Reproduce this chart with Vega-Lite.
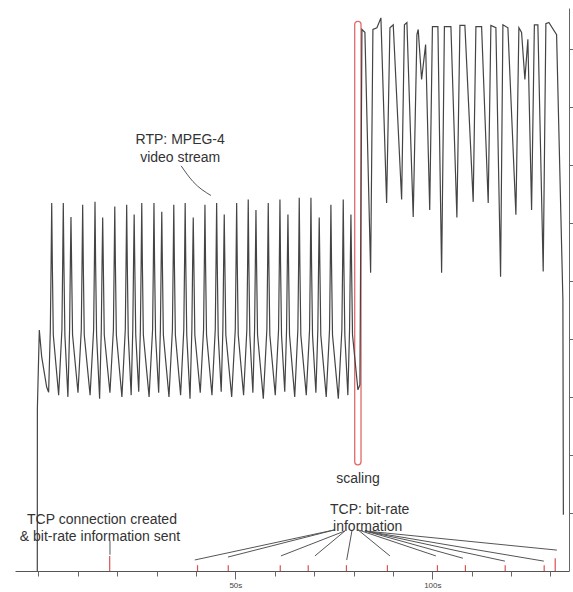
{
  "$schema": "https://vega.github.io/schema/vega-lite/v6.json",
  "width": 554,
  "height": 563,
  "autosize": "none",
  "padding": {"left": 15, "top": 8, "right": 4, "bottom": 21},
  "background": "white",
  "config": {"view": {"stroke": null}, "font": "Liberation Sans"},
  "datasets": {
    "signal": [
      {"t": -0.28, "v": 0}, {"t": -0.26, "v": 280}, {"t": 0.23, "v": 415}, {"t": 0.84, "v": 369}, {"t": 2.1, "v": 317}, {"t": 2.6, "v": 308},
      {"t": 3.03, "v": 416}, {"t": 3.23, "v": 533}, {"t": 3.38, "v": 634}, {"t": 3.53, "v": 533}, {"t": 3.78, "v": 407}, {"t": 5.14, "v": 303},
      {"t": 5.97, "v": 416}, {"t": 6.17, "v": 533}, {"t": 6.32, "v": 634}, {"t": 6.47, "v": 533}, {"t": 6.72, "v": 407}, {"t": 7.49, "v": 300},
      {"t": 7.92, "v": 416}, {"t": 8.12, "v": 533}, {"t": 8.27, "v": 610}, {"t": 8.42, "v": 533}, {"t": 8.67, "v": 407}, {"t": 10.05, "v": 307},
      {"t": 10.89, "v": 416}, {"t": 11.09, "v": 533}, {"t": 11.24, "v": 631}, {"t": 11.39, "v": 533}, {"t": 11.64, "v": 407}, {"t": 13.12, "v": 303},
      {"t": 14.02, "v": 416}, {"t": 14.22, "v": 533}, {"t": 14.37, "v": 636}, {"t": 14.52, "v": 533}, {"t": 14.77, "v": 407}, {"t": 15.54, "v": 297},
      {"t": 15.97, "v": 416}, {"t": 16.17, "v": 533}, {"t": 16.32, "v": 609}, {"t": 16.47, "v": 533}, {"t": 16.72, "v": 407}, {"t": 18.16, "v": 307},
      {"t": 19.04, "v": 416}, {"t": 19.24, "v": 533}, {"t": 19.39, "v": 628}, {"t": 19.54, "v": 533}, {"t": 19.79, "v": 407}, {"t": 21.2, "v": 300},
      {"t": 22.06, "v": 416}, {"t": 22.26, "v": 533}, {"t": 22.41, "v": 631}, {"t": 22.56, "v": 533}, {"t": 22.81, "v": 407}, {"t": 23.55, "v": 303},
      {"t": 23.96, "v": 416}, {"t": 24.16, "v": 533}, {"t": 24.31, "v": 614}, {"t": 24.46, "v": 533}, {"t": 24.71, "v": 407}, {"t": 25.47, "v": 309},
      {"t": 25.89, "v": 416}, {"t": 26.09, "v": 533}, {"t": 26.24, "v": 634}, {"t": 26.39, "v": 533}, {"t": 26.64, "v": 407}, {"t": 28.1, "v": 300},
      {"t": 28.99, "v": 416}, {"t": 29.19, "v": 533}, {"t": 29.34, "v": 634}, {"t": 29.49, "v": 533}, {"t": 29.74, "v": 407}, {"t": 30.53, "v": 307},
      {"t": 30.97, "v": 416}, {"t": 31.17, "v": 533}, {"t": 31.32, "v": 619}, {"t": 31.47, "v": 533}, {"t": 31.72, "v": 407}, {"t": 33.15, "v": 300},
      {"t": 34.02, "v": 416}, {"t": 34.22, "v": 533}, {"t": 34.37, "v": 631}, {"t": 34.52, "v": 533}, {"t": 34.77, "v": 407}, {"t": 36.1, "v": 303},
      {"t": 36.91, "v": 416}, {"t": 37.11, "v": 533}, {"t": 37.26, "v": 634}, {"t": 37.41, "v": 533}, {"t": 37.66, "v": 407}, {"t": 38.49, "v": 297},
      {"t": 38.96, "v": 416}, {"t": 39.16, "v": 533}, {"t": 39.31, "v": 609}, {"t": 39.46, "v": 533}, {"t": 39.71, "v": 407}, {"t": 41.09, "v": 307},
      {"t": 41.93, "v": 416}, {"t": 42.13, "v": 533}, {"t": 42.28, "v": 631}, {"t": 42.43, "v": 533}, {"t": 42.68, "v": 407}, {"t": 44.06, "v": 303},
      {"t": 44.9, "v": 416}, {"t": 45.1, "v": 533}, {"t": 45.25, "v": 634}, {"t": 45.4, "v": 533}, {"t": 45.65, "v": 407}, {"t": 46.41, "v": 309},
      {"t": 46.83, "v": 416}, {"t": 47.03, "v": 533}, {"t": 47.18, "v": 614}, {"t": 47.33, "v": 533}, {"t": 47.58, "v": 407}, {"t": 49.07, "v": 300},
      {"t": 49.98, "v": 416}, {"t": 50.18, "v": 533}, {"t": 50.33, "v": 634}, {"t": 50.48, "v": 533}, {"t": 50.73, "v": 407}, {"t": 52.09, "v": 303},
      {"t": 52.92, "v": 416}, {"t": 53.12, "v": 533}, {"t": 53.27, "v": 640}, {"t": 53.42, "v": 533}, {"t": 53.67, "v": 407}, {"t": 54.45, "v": 307},
      {"t": 54.88, "v": 416}, {"t": 55.08, "v": 533}, {"t": 55.23, "v": 622}, {"t": 55.38, "v": 533}, {"t": 55.63, "v": 407}, {"t": 57.1, "v": 297},
      {"t": 58.0, "v": 416}, {"t": 58.2, "v": 533}, {"t": 58.35, "v": 634}, {"t": 58.5, "v": 533}, {"t": 58.75, "v": 407}, {"t": 60.13, "v": 303},
      {"t": 60.97, "v": 416}, {"t": 61.17, "v": 533}, {"t": 61.32, "v": 640}, {"t": 61.47, "v": 533}, {"t": 61.72, "v": 407}, {"t": 62.54, "v": 309},
      {"t": 63.0, "v": 416}, {"t": 63.2, "v": 533}, {"t": 63.35, "v": 614}, {"t": 63.5, "v": 533}, {"t": 63.75, "v": 407}, {"t": 65.07, "v": 300},
      {"t": 65.87, "v": 416}, {"t": 66.07, "v": 533}, {"t": 66.22, "v": 643}, {"t": 66.37, "v": 533}, {"t": 66.62, "v": 407}, {"t": 68.0, "v": 303},
      {"t": 68.84, "v": 416}, {"t": 69.04, "v": 533}, {"t": 69.19, "v": 643}, {"t": 69.34, "v": 533}, {"t": 69.59, "v": 407}, {"t": 70.45, "v": 307},
      {"t": 70.94, "v": 416}, {"t": 71.14, "v": 533}, {"t": 71.29, "v": 609}, {"t": 71.44, "v": 533}, {"t": 71.69, "v": 407}, {"t": 73.07, "v": 300},
      {"t": 73.91, "v": 416}, {"t": 74.11, "v": 533}, {"t": 74.26, "v": 631}, {"t": 74.41, "v": 533}, {"t": 74.66, "v": 407}, {"t": 76.14, "v": 297},
      {"t": 77.04, "v": 416}, {"t": 77.24, "v": 533}, {"t": 77.39, "v": 640}, {"t": 77.54, "v": 533}, {"t": 77.79, "v": 407}, {"t": 78.56, "v": 303},
      {"t": 78.99, "v": 416}, {"t": 79.19, "v": 533}, {"t": 79.34, "v": 614}, {"t": 79.49, "v": 533}, {"t": 79.74, "v": 407},
      {"t": 81.12, "v": 312}, {"t": 81.62, "v": 321}, {"t": 82.13, "v": 933}, {"t": 82.89, "v": 928}, {"t": 84.34, "v": 514},
      {"t": 84.92, "v": 933}, {"t": 85.94, "v": 936}, {"t": 86.95, "v": 953}, {"t": 88.4, "v": 634}, {"t": 89.24, "v": 936},
      {"t": 90.08, "v": 941}, {"t": 92.21, "v": 640}, {"t": 92.92, "v": 941}, {"t": 93.55, "v": 945}, {"t": 95.15, "v": 610},
      {"t": 96.09, "v": 924}, {"t": 96.42, "v": 933}, {"t": 97.28, "v": 847}, {"t": 98.3, "v": 907}, {"t": 99.34, "v": 622},
      {"t": 100.03, "v": 938}, {"t": 101.42, "v": 938}, {"t": 102.36, "v": 514}, {"t": 103.07, "v": 938}, {"t": 104.72, "v": 938},
      {"t": 106.24, "v": 609}, {"t": 107.01, "v": 940}, {"t": 108.27, "v": 940}, {"t": 110.38, "v": 636}, {"t": 111.07, "v": 938},
      {"t": 112.51, "v": 938}, {"t": 114.19, "v": 634}, {"t": 114.87, "v": 940}, {"t": 116.14, "v": 936}, {"t": 117.33, "v": 507},
      {"t": 117.92, "v": 941}, {"t": 119.19, "v": 936}, {"t": 121.22, "v": 614}, {"t": 121.98, "v": 936}, {"t": 122.66, "v": 928},
      {"t": 123.5, "v": 847}, {"t": 124.26, "v": 916}, {"t": 125.2, "v": 622}, {"t": 125.91, "v": 941}, {"t": 126.8, "v": 941},
      {"t": 128.15, "v": 516}, {"t": 128.83, "v": 943}, {"t": 129.59, "v": 945}, {"t": 131.55, "v": 924}, {"t": 133.15, "v": 467},
      {"t": 133.27, "v": 97}
    ],
    "redticks": [
      {"t": 18.1, "v": 0, "v2": 26}, {"t": 40.4, "v": 0, "v2": 10}, {"t": 48.2, "v": 0, "v2": 10}, {"t": 61.4, "v": 0, "v2": 10},
      {"t": 68.5, "v": 0, "v2": 10}, {"t": 78.2, "v": 0, "v2": 10}, {"t": 88.6, "v": 0, "v2": 10}, {"t": 101.3, "v": 0, "v2": 10},
      {"t": 108.4, "v": 0, "v2": 10}, {"t": 118.5, "v": 0, "v2": 10}, {"t": 128.4, "v": 0, "v2": 10}, {"t": 131.2, "v": 0, "v2": 22}
    ],
    "pointers": [
      {"t": 75.28, "v": 71, "t2": 39.7, "v2": 19}, {"t": 75.28, "v": 71, "t2": 48.12, "v2": 24},
      {"t": 77.82, "v": 69, "t2": 61.57, "v2": 26}, {"t": 77.82, "v": 69, "t2": 70.2, "v2": 26},
      {"t": 79.59, "v": 69, "t2": 78.27, "v2": 19},
      {"t": 81.12, "v": 71, "t2": 89.24, "v2": 26}, {"t": 81.12, "v": 71, "t2": 100.91, "v2": 26},
      {"t": 82.89, "v": 69, "t2": 107.77, "v2": 22}, {"t": 82.89, "v": 69, "t2": 118.43, "v2": 17},
      {"t": 82.89, "v": 69, "t2": 128.32, "v2": 17}, {"t": 82.89, "v": 69, "t2": 131.62, "v2": 36},
      {"t": 18.17, "v": 52, "t2": 18.17, "v2": 28}
    ],
    "rtpline": [
      {"t": 36.24, "v": 698}, {"t": 39.24, "v": 671}, {"t": 43.8, "v": 647}
    ],
    "scalebox": [
      {"t": 80.3, "t2": 81.9, "v": 183, "v2": 947}
    ],
    "labels": [
      {"t": 36.0, "v": 743, "label": "RTP: MPEG-4"},
      {"t": 36.0, "v": 712, "label": "video stream"},
      {"t": 81.12, "v": 159, "label": "scaling"},
      {"t": 16.14, "v": 88, "label": "TCP connection created"},
      {"t": 15.63, "v": 59, "label": "& bit-rate information sent"},
      {"t": 84.1, "v": 105, "label": "TCP: bit-rate"},
      {"t": 83.6, "v": 76, "label": "information"}
    ]
  },
  "layer": [
    {
      "data": {"name": "scalebox"},
      "mark": {"type": "rect", "fill": null, "stroke": "#e06a6a", "strokeWidth": 1.3, "cornerRadius": 3},
      "encoding": {
        "x": {"field": "t", "type": "quantitative", "scale": {"domain": [-5.94, 134.7], "nice": false, "zero": false}, "axis": null},
        "x2": {"field": "t2"},
        "y": {"field": "v", "type": "quantitative", "scale": {"domain": [0, 970], "nice": false, "zero": false}, "axis": {"orient": "right", "title": null, "labels": false, "grid": false, "values": [100, 200, 300, 400, 500, 600, 700, 800, 900], "tickSize": 4, "tickColor": "#666", "domainColor": "#666"}},
        "y2": {"field": "v2"}
      }
    },
    {
      "data": {"name": "signal"},
      "mark": {"type": "line", "color": "#444", "strokeWidth": 1.2},
      "encoding": {
        "x": {"field": "t", "type": "quantitative", "scale": {"domain": [-5.94, 134.7], "nice": false, "zero": false},
          "axis": {"orient": "bottom", "title": null, "values": [50, 100], "labelExpr": "datum.value + 's'", "tickSize": 8, "labelFontSize": 8, "labelColor": "#444", "labelPadding": 2, "grid": false, "tickColor": "#666", "domainColor": "#555"}},
        "y": {"field": "v", "type": "quantitative", "scale": {"domain": [0, 970], "nice": false, "zero": false}, "axis": {"orient": "right", "title": null, "labels": false, "grid": false, "values": [100, 200, 300, 400, 500, 600, 700, 800, 900], "tickSize": 4, "tickColor": "#666", "domainColor": "#666"}}
      }
    },
    {
      "data": {"name": "redticks"},
      "mark": {"type": "rule", "color": "#d9534f", "strokeWidth": 1.2},
      "encoding": {
        "x": {"field": "t", "type": "quantitative", "scale": {"domain": [-5.94, 134.7], "nice": false, "zero": false},
          "axis": {"orient": "bottom", "title": null, "values": [0, 10, 20, 30, 40, 60, 70, 80, 90, 110, 120, 130], "labels": false, "tickSize": 5, "domain": false, "grid": false, "tickColor": "#666"}},
        "y": {"field": "v", "type": "quantitative", "scale": {"domain": [0, 970], "nice": false, "zero": false}, "axis": {"orient": "right", "title": null, "labels": false, "grid": false, "values": [100, 200, 300, 400, 500, 600, 700, 800, 900], "tickSize": 4, "tickColor": "#666", "domainColor": "#666"}},
        "y2": {"field": "v2"}
      }
    },
    {
      "data": {"name": "pointers"},
      "mark": {"type": "rule", "color": "#555", "strokeWidth": 1},
      "encoding": {
        "x": {"field": "t", "type": "quantitative", "scale": {"domain": [-5.94, 134.7], "nice": false, "zero": false}, "axis": null},
        "x2": {"field": "t2"},
        "y": {"field": "v", "type": "quantitative", "scale": {"domain": [0, 970], "nice": false, "zero": false}, "axis": {"orient": "right", "title": null, "labels": false, "grid": false, "values": [100, 200, 300, 400, 500, 600, 700, 800, 900], "tickSize": 4, "tickColor": "#666", "domainColor": "#666"}},
        "y2": {"field": "v2"}
      }
    },
    {
      "data": {"name": "rtpline"},
      "mark": {"type": "line", "color": "#555", "strokeWidth": 1, "interpolate": "monotone"},
      "encoding": {
        "x": {"field": "t", "type": "quantitative", "scale": {"domain": [-5.94, 134.7], "nice": false, "zero": false}, "axis": null},
        "y": {"field": "v", "type": "quantitative", "scale": {"domain": [0, 970], "nice": false, "zero": false}, "axis": {"orient": "right", "title": null, "labels": false, "grid": false, "values": [100, 200, 300, 400, 500, 600, 700, 800, 900], "tickSize": 4, "tickColor": "#666", "domainColor": "#666"}}
      }
    },
    {
      "data": {"name": "labels"},
      "mark": {"type": "text", "align": "center", "baseline": "middle", "fontSize": 14, "color": "#333", "font": "Liberation Sans"},
      "encoding": {
        "x": {"field": "t", "type": "quantitative", "scale": {"domain": [-5.94, 134.7], "nice": false, "zero": false}, "axis": null},
        "y": {"field": "v", "type": "quantitative", "scale": {"domain": [0, 970], "nice": false, "zero": false}, "axis": {"orient": "right", "title": null, "labels": false, "grid": false, "values": [100, 200, 300, 400, 500, 600, 700, 800, 900], "tickSize": 4, "tickColor": "#666", "domainColor": "#666"}},
        "text": {"field": "label"}
      }
    }
  ],
  "resolve": {"axis": {"x": "independent"}}
}
